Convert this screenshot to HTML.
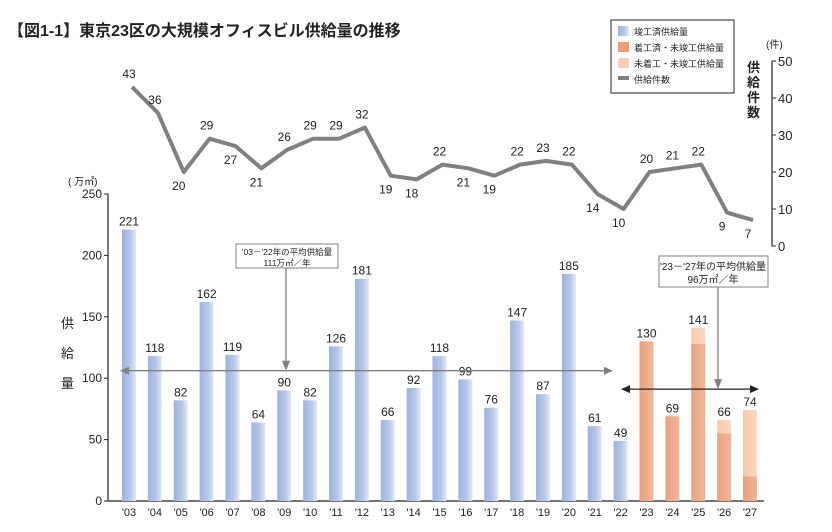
<!DOCTYPE html>
<html><head><meta charset="utf-8">
<style>
html,body{margin:0;padding:0;background:#fff;}
body{width:832px;height:527px;overflow:hidden;font-family:"Liberation Sans","Noto Sans CJK JP",sans-serif;}
</style></head>
<body>
<svg id="chart" width="832" height="527" viewBox="0 0 832 527" xmlns="http://www.w3.org/2000/svg" font-family="'Liberation Sans','Noto Sans CJK JP',sans-serif">
<defs>
<linearGradient id="gBlue" x1="0" x2="1" y1="0" y2="0"><stop offset="0" stop-color="#9db3de"/><stop offset="0.6" stop-color="#b7c8e8"/><stop offset="1" stop-color="#e2e9f6"/></linearGradient>
<linearGradient id="gOr" x1="0" x2="1" y1="0" y2="0"><stop offset="0" stop-color="#e8a27f"/><stop offset="1" stop-color="#f0b798"/></linearGradient>
<linearGradient id="gLt" x1="0" x2="1" y1="0" y2="0"><stop offset="0" stop-color="#f8c9ab"/><stop offset="1" stop-color="#fbd8c1"/></linearGradient>
</defs>
<text x="8" y="36" font-size="16" font-weight="bold" fill="#222">【図1-1】東京23区の大規模オフィスビル供給量の推移</text>
<g id="axes"></g>
<g id="bars"></g>
<g id="line"></g>
<g>
<rect x="611" y="20" width="123" height="73" fill="#fff" stroke="#222" stroke-width="1"/>
<rect x="618" y="26" width="11" height="10" fill="url(#gBlue)"/><text x="634" y="35" font-size="9" fill="#222">竣工済供給量</text>
<rect x="618" y="42" width="11" height="10" fill="#ee9e74"/><text x="634" y="51" font-size="9" fill="#222">着工済・未竣工供給量</text>
<rect x="618" y="58" width="11" height="10" fill="#fbcfb2"/><text x="634" y="67" font-size="9" fill="#222">未着工・未竣工供給量</text>
<rect x="618" y="76" width="11" height="4" fill="#808080"/><text x="634" y="83" font-size="9" fill="#222">供給件数</text>
</g>
</svg>
<script>
const years = ["'03","'04","'05","'06","'07","'08","'09","'10","'11","'12","'13","'14","'15","'16","'17","'18","'19","'20","'21","'22","'23","'24","'25","'26","'27"];
const completed = [221,118,82,162,119,64,90,82,126,181,66,92,118,99,76,147,87,185,61,49,0,0,0,0,0];
const underConstruction = [0,0,0,0,0,0,0,0,0,0,0,0,0,0,0,0,0,0,0,0,130,69,128,55,20];
const notStarted = [0,0,0,0,0,0,0,0,0,0,0,0,0,0,0,0,0,0,0,0,0,0,13,11,54];
const counts = [43,36,20,29,27,21,26,29,29,32,19,18,22,21,19,22,23,22,14,10,20,21,22,9,7];
const leftTicks = [0,50,100,150,200,250];
const rightTicks = [0,10,20,30,40,50];
const avgPast = 111, avgFuture = 96;

const NS="http://www.w3.org/2000/svg";
function mk(tag, attrs, parent, txt){const e=document.createElementNS(NS,tag);for(const k in attrs)e.setAttribute(k,attrs[k]);if(txt!==undefined)e.textContent=txt;parent.appendChild(e);return e;}
const xC = i => 129 + i*25.875;
const yL = v => 501 - v*1.228;
const yR = v => 246 - v*3.7;
const ax=document.getElementById('axes'), bg=document.getElementById('bars'), lg=document.getElementById('line'), svg=document.getElementById('chart');

// left axis
let e=mk('line',{x1:108,y1:yL(250),x2:108,y2:501,stroke:'#222','stroke-width':1.2},ax);


e=mk('line',{x1:108,y1:501,x2:764,y2:501,stroke:'#222','stroke-width':1.2},ax);


leftTicks.forEach(t=>{
  mk('line',{x1:104,y1:yL(t),x2:108,y2:yL(t),stroke:'#222'},ax);
  e=mk('text',{x:102,y:yL(t)+4,'font-size':12,'text-anchor':'end',fill:'#222'},ax,String(t));
  
  
});
e=mk('text',{x:68,y:185,'font-size':10,fill:'#222'},ax,'(  万㎡)');


['供','給','量'].forEach((c,i)=>{e=mk('text',{x:61,y:328+i*30,'font-size':13,fill:'#222'},ax,c);

});
// right axis
e=mk('line',{x1:772,y1:yR(50),x2:772,y2:yR(0),stroke:'#222','stroke-width':1.2},ax);


rightTicks.forEach(t=>{
  mk('line',{x1:772,y1:yR(t),x2:776,y2:yR(t),stroke:'#222'},ax);
  e=mk('text',{x:778,y:yR(t)+5,'font-size':13,fill:'#222'},ax,String(t));
  
  
});
e=mk('text',{x:766,y:48,'font-size':10,fill:'#222'},ax,'(件)');


['供','給','件','数'].forEach((c,i)=>{e=mk('text',{x:747,y:72+i*15,'font-size':13,'font-weight':'bold',fill:'#222'},ax,c);

});

// bars
years.forEach((y,i)=>{
  const x=xC(i)-7, w=14;
  let base=0;
  if(completed[i]>0){
    e=mk('rect',{x:x,y:yL(completed[i]),width:w,height:yL(0)-yL(completed[i]),fill:'url(#gBlue)'},bg);
    
    
    base=completed[i];
  }
  if(underConstruction[i]>0){
    e=mk('rect',{x:x,y:yL(base+underConstruction[i]),width:w,height:yL(base)-yL(base+underConstruction[i]),fill:'url(#gOr)'},bg);
    
    
    base+=underConstruction[i];
  }
  if(notStarted[i]>0){
    e=mk('rect',{x:x,y:yL(base+notStarted[i]),width:w,height:yL(base)-yL(base+notStarted[i]),fill:'url(#gLt)'},bg);
    
    
    base+=notStarted[i];
  }
  e=mk('text',{x:xC(i),y:yL(base)-4,'font-size':12,'text-anchor':'middle',fill:'#222'},bg,String(base));
  
  
  e=mk('text',{x:xC(i),y:516,'font-size':11,'text-anchor':'middle',fill:'#222'},bg,y);
  
  
});

// average annotations
function arrowHead(x,y,dir,col,p){ // dir: 'l','r','d'
  let pts;
  if(dir==='l')pts=`${x},${y} ${x+9},${y-4} ${x+9},${y+4}`;
  else if(dir==='r')pts=`${x},${y} ${x-9},${y-4} ${x-9},${y+4}`;
  else pts=`${x},${y} ${x-4},${y-10} ${x+4},${y-10}`;
  return mk('polygon',{points:pts,fill:col},p);
}
const ya=yL(avgPast)+6;
e=mk('line',{x1:121,y1:ya,x2:611,y2:ya,stroke:'#808080','stroke-width':1.3},bg);


arrowHead(120,ya,'l','#808080',bg);arrowHead(613,ya,'r','#808080',bg);
mk('line',{x1:286,y1:268,x2:286,y2:ya-8,stroke:'#808080','stroke-width':1.3},bg);
arrowHead(286,ya,'d','#808080',bg);
e=mk('rect',{x:236,y:244,width:102,height:24,fill:'#fff',stroke:'#808080'},bg);


mk('text',{x:287,y:255,'font-size':8.5,'text-anchor':'middle',fill:'#222'},bg,"'03－'22年の平均供給量");
mk('text',{x:287,y:266,'font-size':8.5,'text-anchor':'middle',fill:'#222'},bg,"111万㎡／年");
const yb=yL(avgFuture)+6;
e=mk('line',{x1:624,y1:yb,x2:756,y2:yb,stroke:'#222','stroke-width':1.3},bg);


arrowHead(621,yb,'l','#222',bg);arrowHead(759,yb,'r','#222',bg);
mk('line',{x1:718,y1:287,x2:718,y2:yb-8,stroke:'#808080','stroke-width':1.3},bg);
arrowHead(718,yb,'d','#808080',bg);
e=mk('rect',{x:659,y:256,width:109,height:31,fill:'#fff',stroke:'#808080'},bg);


mk('text',{x:713,y:270,'font-size':10,'text-anchor':'middle',fill:'#222'},bg,"'23－'27年の平均供給量");
mk('text',{x:713,y:283,'font-size':10,'text-anchor':'middle',fill:'#222'},bg,"96万㎡／年");

// line
const below=[0,0,1,0,1,1,0,0,0,0,1,1,0,1,1,0,0,0,1,1,0,0,0,1,1];
e=mk('polyline',{points:counts.map((c,i)=>`${xC(i)+3},${yR(c)}`).join(' '),fill:'none',stroke:'#808080','stroke-width':4,'stroke-linejoin':'round'},lg);


counts.forEach((c,i)=>{
  e=mk('text',{x:xC(i)+(below[i]?-2:0),y:below[i]?yR(c)+18:yR(c)-9,'font-size':12,'text-anchor':'middle',fill:'#222'},lg,String(c));
  
  
});
</script>
</body></html>
